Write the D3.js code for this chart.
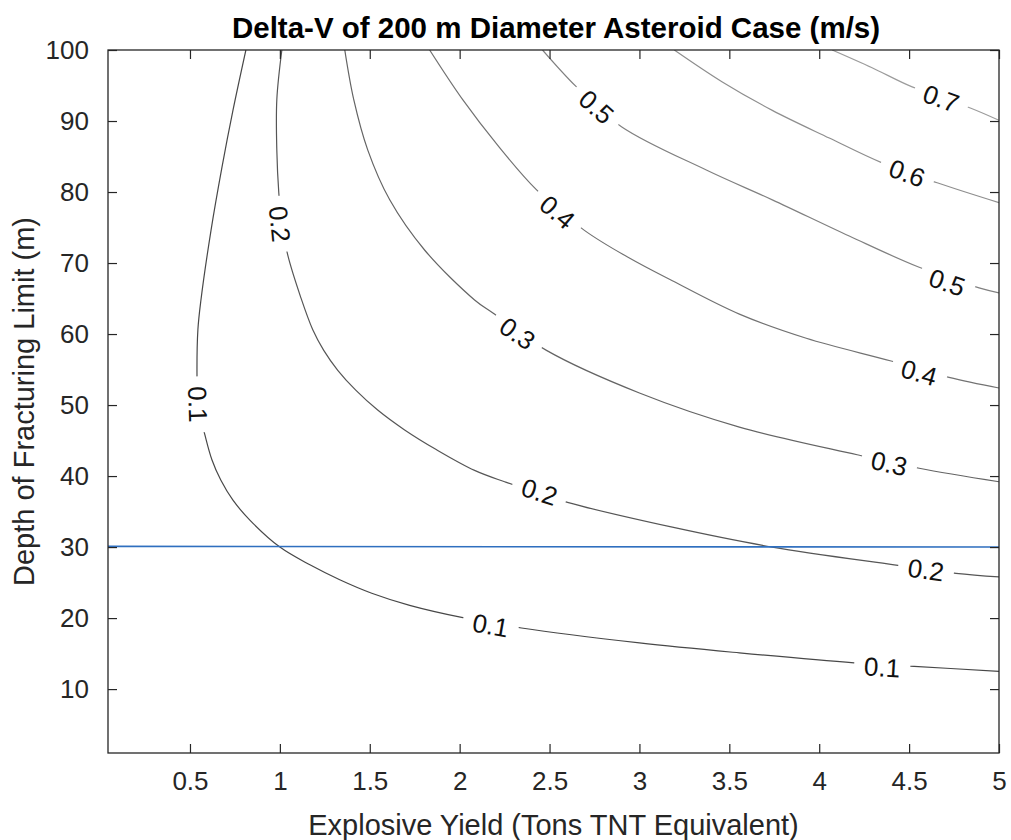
<!DOCTYPE html>
<html>
<head>
<meta charset="utf-8">
<script src="https://cdn.jsdelivr.net/npm/d3@7"></script>
<style>
  body { margin: 0; background: #fff; }
  text { font-family: "Liberation Sans", Arial, Helvetica, sans-serif; }
</style>
</head>
<body>
<script>
var width = 1011,
    height = 840;

// contour levels (m/s) and the lines: [yield, depth]
var levels = [0.1, 0.2, 0.3, 0.4, 0.5, 0.6, 0.7];

var contour01 = [[0.811, 100], [0.739, 91.5], [0.678, 83.5], [0.617, 74.6], [0.561, 64.8],
  [0.544, 60.6], [0.539, 54.2], [0.544, 50.0], [0.583, 45.8], [0.622, 42.3], [0.672, 39.4],
  [0.739, 36.6], [0.833, 33.8], [1.0, 30.0], [1.167, 27.5], [1.333, 25.4], [1.511, 23.5],
  [1.722, 21.8], [2.011, 20.1], [2.344, 18.6], [3.0, 16.5], [3.556, 15.1], [4.194, 13.7],
  [4.528, 13.2], [5.0, 12.5]];
var contour02 = [[1.011, 100], [0.983, 93.0], [0.983, 85.9], [0.994, 79.9], [1.011, 75.5],
  [1.044, 71.1], [1.117, 65.1], [1.183, 60.6], [1.244, 57.7], [1.322, 54.9], [1.422, 52.1],
  [1.544, 49.3], [1.694, 46.5], [1.872, 43.7], [2.083, 40.8], [2.25, 39.2], [2.6, 36.3],
  [3.183, 32.8], [3.739, 30.0], [4.417, 27.5], [4.761, 26.3], [5.0, 25.8]];
var contour03 = [[1.361, 100], [1.411, 93.0], [1.489, 85.9], [1.611, 78.9], [1.806, 71.8],
  [2.083, 64.8], [2.183, 63.0], [2.483, 57.7], [3.0, 51.7], [3.556, 46.9], [4.211, 43.0],
  [4.556, 41.1], [5.0, 39.2]];
var contour04 = [[1.833, 100], [2.017, 93.0], [2.211, 86.6], [2.428, 80.3], [2.694, 74.6],
  [2.944, 70.7], [3.183, 67.5], [3.556, 62.8], [3.928, 59.4], [4.4, 56.2], [4.722, 53.9],
  [5.0, 52.4]];
var contour05 = [[2.461, 100], [2.65, 94.8], [2.9, 89.2], [3.372, 83.1], [3.739, 78.9],
  [4.167, 73.8], [4.556, 69.4], [4.889, 66.5], [5.0, 65.8]];
var contour06 = [[3.194, 100], [3.461, 95.5], [3.739, 91.5], [4.056, 87.6], [4.35, 84.1],
  [4.656, 81.3], [5.0, 78.5]];
var contour07 = [[4.072, 100], [4.294, 97.5], [4.517, 94.8], [4.844, 91.8], [5.0, 90.1]];

var contourLines = [contour01, contour02, contour03, contour04, contour05, contour06, contour07];

// inline labels: [level, yield, depth]
var labelPos = [[0.1, 0.544, 50.1], [0.1, 2.172, 19.0], [0.1, 4.35, 13.1],
  [0.2, 1.0, 75.5], [0.2, 2.444, 37.8], [0.2, 4.594, 26.8],
  [0.3, 2.322, 60.1], [0.3, 4.389, 41.8],
  [0.4, 2.544, 77.2], [0.4, 4.556, 54.6],
  [0.5, 2.761, 92.0], [0.5, 4.711, 67.3],
  [0.6, 4.489, 82.7],
  [0.7, 4.678, 93.2]];

// fracture limit line
var limitX = [0.044, 5];
var limitY = [30.1, 30];

var xTicks = [0.5, 1, 1.5, 2, 2.5, 3, 3.5, 4, 4.5, 5];
var yTicks = [10, 20, 30, 40, 50, 60, 70, 80, 90, 100];

var margin = {top: 50, right: 12, bottom: 87, left: 108};
var x = d3.scaleLinear().domain([0.044, 5]).range([margin.left, width - margin.right]);
var y = d3.scaleLinear().domain([1, 100]).range([height - margin.bottom, margin.top]);

var grey = d3.scaleLinear().domain([0.1, 0.7]).range(["#484848", "#9c9c9c"]);

var svg = d3.select("body")
  .append("svg")
  .attr("width", width)
  .attr("height", height);

svg.append("defs").append("clipPath")
    .attr("id", "plot")
  .append("rect")
    .attr("x", x.range()[0])
    .attr("y", y.range()[1])
    .attr("width", x.range()[1] - x.range()[0])
    .attr("height", y.range()[0] - y.range()[1]);

var line = d3.line()
  .x(function(d) { return x(d[0]); })
  .y(function(d) { return y(d[1]); })
  .curve(d3.curveCatmullRom.alpha(0.5));

var plot = svg.append("g").attr("clip-path", "url(#plot)");

plot.append("g")
    .attr("class", "contours")
  .selectAll("path")
  .data(contourLines)
  .enter().append("path")
    .attr("d", line)
    .attr("fill", "none")
    .attr("stroke", function(d, i) { return grey(levels[i]); })
    .attr("stroke-width", 1.2);

// local direction of the contour under a label, in screen space
function labelAngle(d) {
  var pts = contourLines[levels.indexOf(d[0])].map(function(p) { return [x(p[0]), y(p[1])]; });
  var px = x(d[1]), py = y(d[2]), best = 0, bestDist = Infinity;
  for (var i = 0; i < pts.length - 1; i++) {
    var mx = (pts[i][0] + pts[i + 1][0]) / 2, my = (pts[i][1] + pts[i + 1][1]) / 2;
    var dist = (mx - px) * (mx - px) + (my - py) * (my - py);
    if (dist < bestDist) { bestDist = dist; best = i; }
  }
  var a = Math.atan2(pts[best + 1][1] - pts[best][1], pts[best + 1][0] - pts[best][0]) * 180 / Math.PI;
  if (a > 90) a -= 180;
  if (a < -90) a += 180;
  return a;
}

var labels = plot.append("g")
    .attr("class", "clabels")
  .selectAll("g")
  .data(labelPos)
  .enter().append("g")
    .attr("transform", function(d) {
      return "translate(" + x(d[1]) + "," + y(d[2]) + ") rotate(" + labelAngle(d) + ")";
    });

labels.append("rect")
    .attr("fill", "#fff");

labels.append("text")
    .attr("text-anchor", "middle")
    .attr("dy", "0.36em")
    .attr("font-size", 26)
    .attr("fill", "#111")
    .text(function(d) { return d[0]; });

labels.each(function() {
  var g = d3.select(this),
      b = g.select("text").node().getBBox();
  g.select("rect")
    .attr("x", b.x - 10)
    .attr("y", b.y + 2)
    .attr("width", b.width + 20)
    .attr("height", b.height - 4);
});

plot.append("path")
    .datum(d3.zip(limitX, limitY))
    .attr("d", d3.line().x(function(d) { return x(d[0]); }).y(function(d) { return y(d[1]); }))
    .attr("fill", "none")
    .attr("stroke", "#2f6fbf")
    .attr("stroke-width", 1.6);

// axes: box with inward ticks on all four sides
var axisColor = "#262626";

function styleAxis(g) {
  g.select(".domain").remove();
  g.selectAll(".tick line").attr("stroke", axisColor).attr("stroke-width", 1.2);
  g.selectAll(".tick text")
    .attr("fill", axisColor)
    .attr("font-size", 26)
    .attr("font-family", "Liberation Sans, Arial, sans-serif");
}

svg.append("g")
    .attr("transform", "translate(0," + y.range()[0] + ")")
    .call(d3.axisBottom(x).tickValues(xTicks).tickSize(-9).tickPadding(19).tickFormat(d3.format("")))
    .call(styleAxis);

svg.append("g")
    .attr("transform", "translate(0," + y.range()[1] + ")")
    .call(d3.axisTop(x).tickValues(xTicks).tickSize(-9).tickFormat(""))
    .call(styleAxis);

svg.append("g")
    .attr("transform", "translate(" + x.range()[0] + ",0)")
    .call(d3.axisLeft(y).tickValues(yTicks).tickSize(-9).tickPadding(19))
    .call(styleAxis);

svg.append("g")
    .attr("transform", "translate(" + x.range()[1] + ",0)")
    .call(d3.axisRight(y).tickValues(yTicks).tickSize(-9).tickFormat(""))
    .call(styleAxis);

svg.append("rect")
    .attr("x", x.range()[0])
    .attr("y", y.range()[1])
    .attr("width", x.range()[1] - x.range()[0])
    .attr("height", y.range()[0] - y.range()[1])
    .attr("fill", "none")
    .attr("stroke", axisColor)
    .attr("stroke-width", 1.3);

svg.append("text")
    .attr("x", 556)
    .attr("y", 38)
    .attr("text-anchor", "middle")
    .attr("font-size", 29.5)
    .attr("font-weight", "bold")
    .attr("fill", "#000")
    .text("Delta-V of 200 m Diameter Asteroid Case (m/s)");

svg.append("text")
    .attr("x", (x.range()[0] + x.range()[1]) / 2)
    .attr("y", 835)
    .attr("text-anchor", "middle")
    .attr("font-size", 29)
    .attr("fill", axisColor)
    .text("Explosive Yield (Tons TNT Equivalent)");

svg.append("text")
    .attr("transform", "translate(34," + (y.range()[0] + y.range()[1]) / 2 + ") rotate(-90)")
    .attr("text-anchor", "middle")
    .attr("font-size", 29)
    .attr("fill", axisColor)
    .text("Depth of Fracturing Limit (m)");
</script>
</body>
</html>
